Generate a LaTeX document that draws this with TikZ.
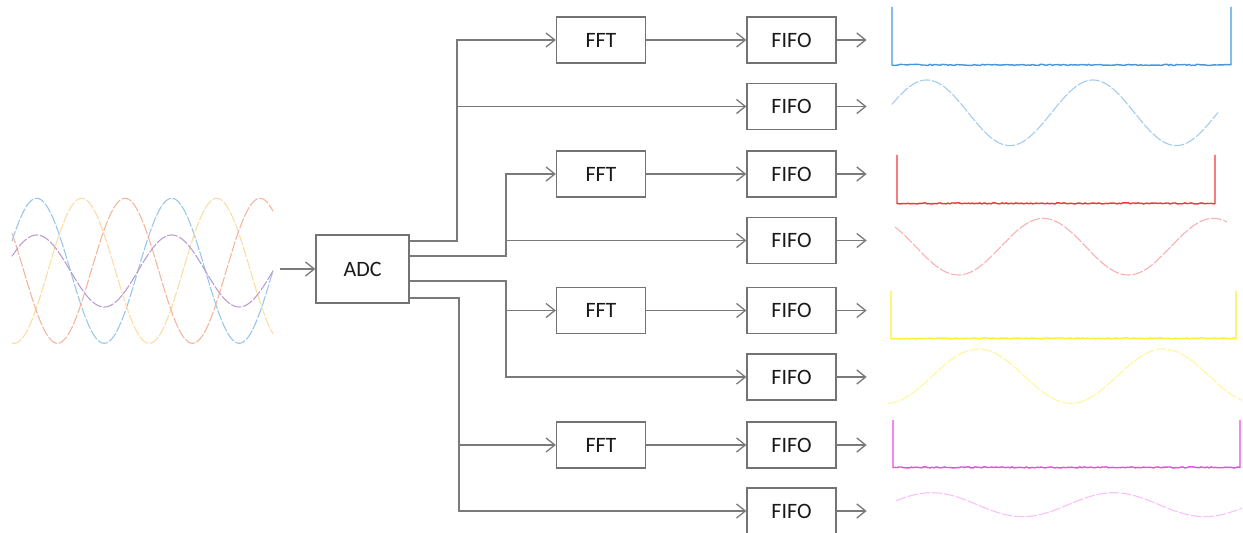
\documentclass[tikz,border=0pt]{standalone}
\usepackage{fontspec}
\setmainfont{Carlito}
\usetikzlibrary{positioning, arrows.meta, calc}

\definecolor{wblue}{RGB}{150,198,234}
\definecolor{wyellow}{RGB}{252,220,160}
\definecolor{wred}{RGB}{244,180,155}
\definecolor{wpurple}{RGB}{185,155,212}
\definecolor{sblue}{RGB}{70,150,220}
\definecolor{sred}{RGB}{240,55,55}
\definecolor{syellow}{RGB}{255,238,50}
\definecolor{smagenta}{RGB}{240,70,240}

\begin{document}
\begin{tikzpicture}[x=0.02cm, y=-0.02cm,
    blk/.style={draw=black!55, line width=0.75pt, minimum width=1.78cm,
                minimum height=0.92cm, inner sep=0pt, align=center,
                font=\fontsize{12.5}{14}\selectfont, text=black!90},
    conn/.style={draw=black!52, line width=0.75pt},
    arr/.style={conn, -{Straight Barb[length=5pt, width=8pt]}},
    wave/.style={line width=0.6pt, dash pattern=on 6pt off 1pt},
    spec/.style={line width=0.8pt},
]

\useasboundingbox (0,0) rectangle (1243,533);

% Positions
\pgfmathsetmacro{\xFFT}{601}
\pgfmathsetmacro{\xFIFO}{791.5}
\pgfmathsetmacro{\yI}{40}
\pgfmathsetmacro{\yII}{106.5}
\pgfmathsetmacro{\yIII}{174}
\pgfmathsetmacro{\yIV}{240.5}
\pgfmathsetmacro{\yV}{310.5}
\pgfmathsetmacro{\yVI}{377}
\pgfmathsetmacro{\yVII}{445}
\pgfmathsetmacro{\yVIII}{511}

% ===== INPUT WAVES =====
\draw[wave, wblue] plot[domain=12:273, samples=200] (\x, {270.8-72.5*cos((\x-36.7)/135*360)});
\draw[wave, wyellow] plot[domain=12:273, samples=200] (\x, {270.8-72.5*cos((\x-81.7)/135*360)});
\draw[wave, wred] plot[domain=12:273, samples=200] (\x, {270.8-72.5*cos((\x-125)/135*360)});
\draw[wave, wpurple] plot[domain=12:273, samples=200] (\x, {271-36*cos((\x-36.7)/135*360)});

% ===== BLOCKS =====
\node[blk, minimum width=1.86cm, minimum height=1.36cm] (adc) at (362.5, 269) {ADC};

\node[blk] (fft1) at (\xFFT, \yI) {FFT};
\node[blk] (fft2) at (\xFFT, \yIII) {FFT};
\node[blk] (fft3) at (\xFFT, \yV) {FFT};
\node[blk] (fft4) at (\xFFT, \yVII) {FFT};

\node[blk] (fifo1) at (\xFIFO, \yI) {FIFO};
\node[blk] (fifo2) at (\xFIFO, \yII) {FIFO};
\node[blk] (fifo3) at (\xFIFO, \yIII) {FIFO};
\node[blk] (fifo4) at (\xFIFO, \yIV) {FIFO};
\node[blk] (fifo5) at (\xFIFO, \yV) {FIFO};
\node[blk] (fifo6) at (\xFIFO, \yVI) {FIFO};
\node[blk] (fifo7) at (\xFIFO, \yVII) {FIFO};
\node[blk] (fifo8) at (\xFIFO, \yVIII) {FIFO};

% bus lines
\coordinate (busA) at (457, 0);
\coordinate (busB) at (506, 0);
\coordinate (busC) at (459, 0);
\coordinate (in) at ([xshift=-0.7cm]adc.west);

% ===== CONNECTORS =====
\draw[arr] (in) -- (adc.west);

\draw[arr] ($(adc.east)+(0,-28)$) -| (busA |- fft1.west) -- (fft1.west);
\draw[arr] (busA |- fifo2.west) -- (fifo2.west);

\draw[arr] ($(adc.east)+(0,-13)$) -| (busB |- fft2.west) -- (fft2.west);
\draw[arr] (busB |- fifo4.west) -- (fifo4.west);

\draw[arr] ($(adc.east)+(0,12)$) -| (busB |- fifo6.west) -- (fifo6.west);
\draw[arr] (busB |- fft3.west) -- (fft3.west);

\draw[arr] ($(adc.east)+(0,29)$) -| (busC |- fifo8.west) -- (fifo8.west);
\draw[arr] (busC |- fft4.west) -- (fft4.west);

\draw[arr] (fft1) -- (fifo1);
\draw[arr] (fft2) -- (fifo3);
\draw[arr] (fft3) -- (fifo5);
\draw[arr] (fft4) -- (fifo7);

\foreach \i in {1,...,8} {
    \coordinate (out\i) at ([xshift=0.6cm]fifo\i.east);
    \draw[arr] (fifo\i.east) -- (out\i);
}

% ===== OUTPUT SPECTRA =====
\foreach \l/\r/\t/\b/\c in {892/1231/7/65.5/sblue, 897/1215/155/204/sred,
                            891/1236/291/339/syellow, 893/1240/420/468/smagenta} {
    \draw[spec, \c] (\l,\t) -- (\l,\b)
        -- plot[domain=\l:\r, samples=170] (\x, {\b-1.2*rnd})
        -- (\r,\b) -- (\r,\t);
}

% ===== OUTPUT WAVES =====
\draw[wave, sblue!50] plot[domain=892:1218, samples=200] (\x, {112.8-32.8*cos((\x-926.7)/166.3*360)});
\draw[wave, sred!40] plot[domain=895:1227, samples=200] (\x, {246.7-28.3*cos((\x-1043.3)/170*360)});
\draw[wave, syellow!50] plot[domain=888:1242, samples=200] (\x, {376.2-27.2*cos((\x-978.3)/185*360)});
\draw[wave, smagenta!35] plot[domain=896:1242, samples=200] (\x, {504.7-12*cos((\x-931.7)/182*360)});

\end{tikzpicture}
\end{document}
